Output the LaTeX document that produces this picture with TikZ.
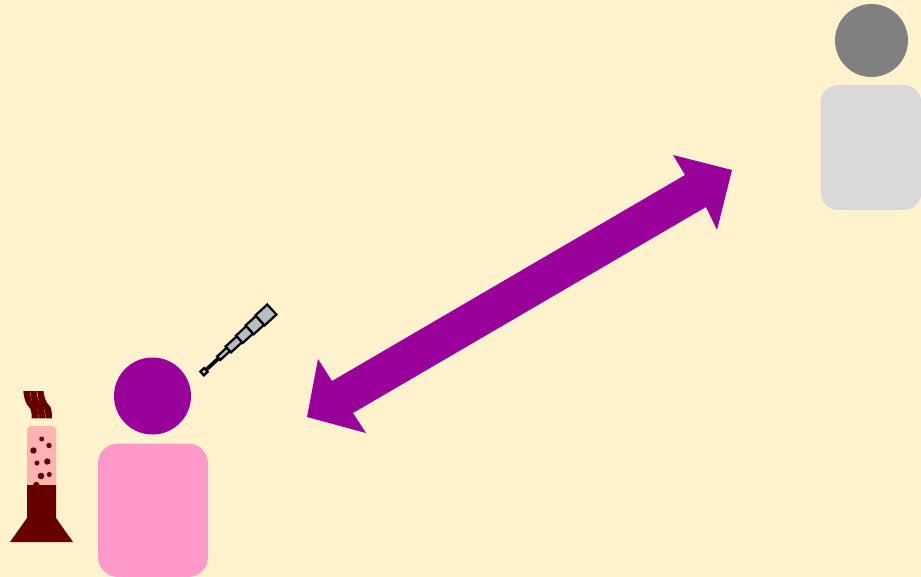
\documentclass[tikz,border=0pt]{standalone}
\definecolor{bgc}{HTML}{FFF2CC}
\definecolor{pinkc}{HTML}{FF99CC}
\definecolor{purp}{HTML}{990099}
\definecolor{grayhead}{HTML}{808080}
\definecolor{graybody}{HTML}{D9D9D9}
\definecolor{dark}{HTML}{660000}
\definecolor{flask}{HTML}{FFB3B3}
\definecolor{scopec}{HTML}{B8BCC4}
\tikzset{
  tube/.style={draw=black,fill=scopec,line width=2.2pt,line join=miter},
  bub/.style={fill=dark,draw=none}
}
\newcommand{\smokestripe}[1]{\fill[dark,xshift=#1pt] (23.3,391) .. controls (24.3,400) and (26,404) .. (29,407) .. controls (31,409) and (31.7,412) .. (31.7,418.3) -- (38.1,418.3) .. controls (38.1,410) and (37.5,407.5) .. (35.4,405.5) .. controls (32.4,402.5) and (30.7,399) .. (29.7,391) -- cycle;}
\begin{document}
\begin{tikzpicture}[x=1pt,y=-1pt]
\path[use as bounding box,fill=bgc] (0,0) rectangle (921,577);
% double arrow
\fill[purp] (732,170) -- (673,155) -- (685,175) -- (332,381) -- (318,359) -- (307,417) -- (366,433) -- (353,413) -- (706,207) -- (717,230) -- cycle;
% right person
\fill[grayhead] (871.5,40.5) circle (36.5);
\fill[graybody,rounded corners=18pt] (820.5,85) rectangle (921.5,210);
% left person
\fill[purp] (152.5,396) circle (38.5);
\fill[pinkc,rounded corners=20pt] (98,443.5) rectangle (208,577);
% flask
\fill[flask,rounded corners=4pt] (27,426) rectangle (56,490);
\fill[bub] (41.7,439) circle (2.5);
\fill[bub] (49,445.5) circle (2.7);
\fill[bub] (33.5,450.5) circle (3.2);
\fill[bub] (37,463) circle (2.5);
\fill[bub] (47.3,461.5) circle (3.2);
\fill[bub] (41,476) circle (3.3);
\fill[bub] (49.3,474.5) circle (2.5);
\fill[bub] (36.3,485) circle (3.2);
\fill[dark] (27,485) -- (56,485) -- (56,518) -- (73,542) -- (10,542) -- (27,518) -- cycle;
\smokestripe{0}
\smokestripe{6.8}
\smokestripe{13.8}
% spyglass
\begin{scope}[shift={(204,371.7)},rotate=42.5]
\draw[tube,fill=black] (3,-0.8) rectangle (20,0.8);
\draw[tube,fill=scopec] (-2.6,-2.6) rectangle (2.6,2.6);
\draw[tube] (20,-2.4) rectangle (33,2.4);
\draw[tube] (33,-4) rectangle (48,4);
\draw[tube] (48,-5) rectangle (62,5);
\draw[tube] (62,-6) rectangle (76,6);
\draw[tube] (76,-6.8) rectangle (92,6.8);
\end{scope}
\end{tikzpicture}
\end{document}
